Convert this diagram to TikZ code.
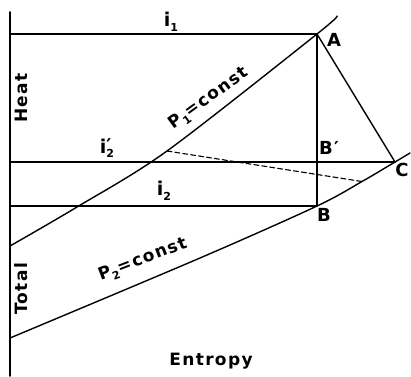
\documentclass[tikz,border=0pt]{standalone}
\usepackage{fontspec}
\newfontfamily\plotfont[LetterSpace=8]{DejaVu Sans}
\newcommand\lowidx[1]{\raisebox{-0.25em}{\fontsize{11}{13}\selectfont #1}}
\tikzset{
  curve/.style={line width=1.4pt},
  thinline/.style={line width=1.1pt},
  lbl/.style={inner sep=0pt, font=\plotfont\bfseries\fontsize{17}{20}\selectfont},
  ilbl/.style={inner sep=0pt, font=\plotfont\bfseries\fontsize{19}{22}\selectfont},
  pointlbl/.style={inner sep=0pt, font=\plotfont\bfseries\fontsize{18}{21}\selectfont}
}
\begin{document}
\begin{tikzpicture}[x=1pt, y=-1pt, line cap=round, line join=round]
    \useasboundingbox (0,0) rectangle (411,376);
    % state points
    \coordinate (A) at (317,34);
    \coordinate (Bp) at (317,162);
    \coordinate (B) at (317,206);
    \coordinate (C) at (395,162);
    \coordinate (D1) at (167,151);
    \coordinate (D2) at (362,181.5);
    \coordinate (Y1) at (10,34);
    \coordinate (Y2) at (10,162);
    \coordinate (Y3) at (10,206);
    % axis
    \draw[line width=1.6pt] (10,12) -- (10,376);
    % constant total heat lines
    \draw[thinline] (Y1) -- (A);
    \draw[thinline] (Y2) -- (Bp) -- (C);
    \draw[thinline] (Y3) -- (B);
    \draw[thinline] (A) -- (Bp) -- (B);
    \draw[curve] (A) -- (C);
    % pressure lines
    \draw[curve] plot[smooth] coordinates {(10,246) (77,207) (D1) (A) (337,16)};
    \draw[curve] plot[smooth] coordinates {(10,338) (200,258) (B) (D2) (C) (410,153)};
    \draw[thinline, dash pattern=on 5pt off 3pt] (D1) -- (D2);
    % labels
    \node[ilbl] (li1) at (171,22) {i\lowidx{1}};
    \node[ilbl] (li2p) at (107,148) {i\rlap{\raisebox{0.05em}{′}}\lowidx{2}};
    \node[ilbl] (li2) at (164,191) {i\lowidx{2}};
    \node[pointlbl] (lA) at (334,40) {A};
    \node[pointlbl] (lBp) at (329,148) {B′};
    \node[pointlbl] (lB) at (324,215) {B};
    \node[pointlbl] (lC) at (402,170) {C};
    \node[lbl, rotate=36] (lP1) at (209,99) {P\lowidx{1}=const};
    \node[lbl, rotate=21] (lP2) at (143,260) {P\lowidx{2}=const};
    \node[lbl, rotate=90] (lHeat) at (21,98) {Heat};
    \node[lbl, rotate=90] (lTotal) at (21,289) {Total};
    \node[lbl] (lEntropy) at (211,361) {Entropy};
\end{tikzpicture}
\end{document}
